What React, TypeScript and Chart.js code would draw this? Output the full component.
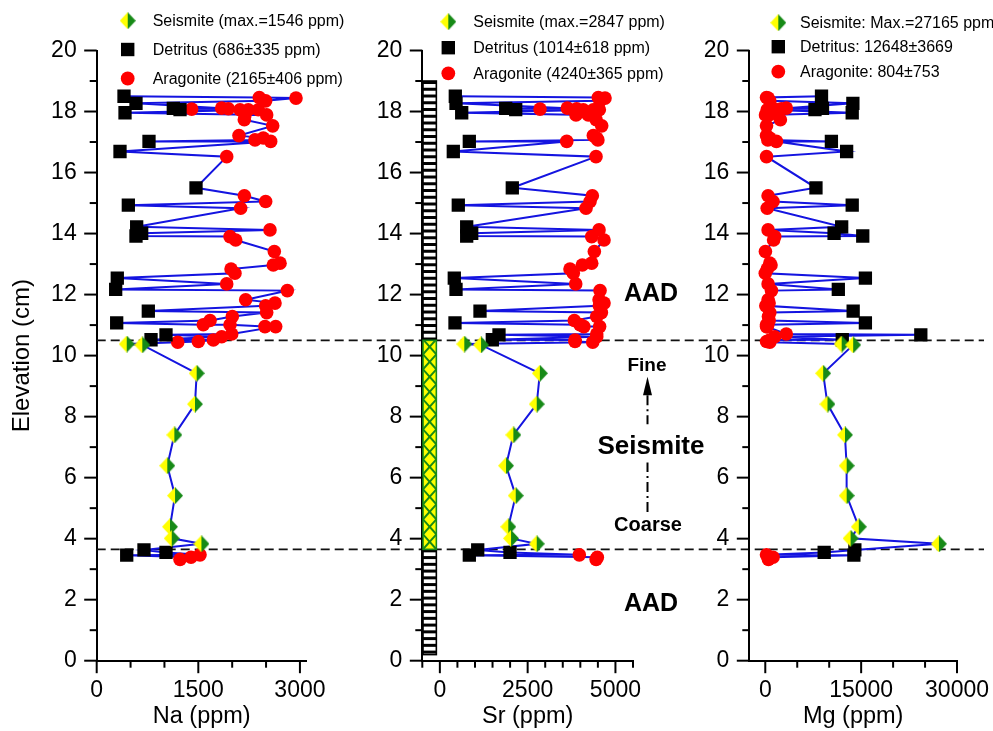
import React, { useEffect, useRef } from 'react';
import { Chart, registerables } from 'chart.js';

Chart.register(...registerables);

const FONT = "'Liberation Sans', Arial, Helvetica, sans-serif";
const W = 993;
const H = 731;

// ---------------- DATA ----------------
// Detritus samples
const detritusElev = [18.5, 18.27, 18.1, 18.06, 17.96, 17.02, 16.69, 15.5, 14.93, 14.22, 14.01, 13.92, 12.54, 12.17, 11.46, 11.07, 10.68, 10.52, 3.63, 3.55, 3.46];
const detritusNa = [403, 580, 1131, 1230, 418, 772, 344, 1466, 467, 590, 664, 580, 304, 280, 762, 295, 1023, 802, 698, 1023, 443];
const detritusSr = [440, 460, 1875, 2160, 622, 839, 383, 2063, 525, 764, 907, 764, 411, 460, 1143, 431, 1684, 1494, 1078, 1998, 839];
const detritusMg = [8798, 13705, 8953, 7776, 13602, 10345, 12728, 7930, 13602, 11952, 10763, 15251, 15664, 11428, 13750, 15664, 24335, 12048, 14013, 9216, 13859];

// Aragonite samples
const aragoniteElev = [18.46, 18.44, 18.35, 18.11, 18.09, 18.08, 18.06, 18.06, 18.06, 17.89, 17.89, 17.73, 17.53, 17.21, 17.13, 17.07, 17.02, 16.52, 15.24, 15.05, 14.83, 14.12, 13.9, 13.79, 13.41, 13.03, 12.97, 12.84, 12.7, 12.35, 12.13, 11.83, 11.72, 11.63, 11.41, 11.28, 11.15, 11.01, 11.01, 10.95, 10.95, 10.71, 10.62, 10.51, 10.46, 10.44, 3.47, 3.39, 3.32];
const aragoniteNa = [2400, 2942, 2494, 1845, 1943, 1402, 2115, 2238, 2386, 2509, 2189, 2179, 2598, 2100, 2459, 2337, 2568, 1919, 2180, 2494, 2125, 2558, 1968, 2052, 2622, 2706, 2607, 1983, 2041, 1919, 2814, 2199, 2632, 2494, 2509, 2002, 1673, 1574, 1968, 2484, 2642, 1993, 1845, 1722, 1500, 1196, 1525, 1392, 1230];
const aragoniteSr = [4512, 4703, 4561, 3630, 3897, 2852, 4085, 4370, 4541, 4228, 3877, 4450, 4609, 4370, 4467, 4500, 3613, 4447, 4342, 4276, 4162, 4533, 4324, 4675, 4399, 4324, 4057, 3706, 3800, 3869, 4561, 4533, 4675, 4541, 4600, 4467, 3829, 3991, 4000, 4100, 4550, 4467, 4467, 3849, 3849, 4353, 3971, 4484, 4450];
const aragoniteMg = [193, 450, 704, 3288, 2514, 1477, 440, 900, 300, 38, 600, 2359, 193, 193, 704, 400, 1740, 193, 440, 1214, 300, 440, 1477, 1300, 20, 704, 900, 300, 0, 440, 967, 440, 600, 85, 704, 500, 600, 193, 400, 300, 193, 3288, 1477, 704, 200, 704, 193, 1214, 500];

// Seismite samples
const seismiteElev = [10.38, 10.35, 9.42, 8.41, 7.4, 6.39, 5.41, 4.39, 4.01, 3.83];
const seismiteNa = [443, 673, 1476, 1451, 1146, 1042, 1156, 1082, 1107, 1546];
const seismiteSr = [696, 1172, 2847, 2758, 2092, 1884, 2160, 1949, 2026, 2758];
const seismiteMg = [11952, 13750, 9060, 9726, 12465, 12728, 12728, 14631, 13346, 27165];

// Tick labels
const elevationTickLabels = [0, 2, 4, 6, 8, 10, 12, 14, 16, 18, 20];
const naTickLabels = [0, 1500, 3000];
const srTickLabels = [0, 2500, 5000];
const mgTickLabels = [0, 15000, 30000];

// Legend texts
const naLegend = ['Seismite (max.=1546 ppm)', 'Detritus (686±335 ppm)', 'Aragonite (2165±406 ppm)'];
const srLegend = ['Seismite (max.=2847 ppm)', 'Detritus (1014±618 ppm)', 'Aragonite (4240±365 ppm)'];
const mgLegend = ['Seismite: Max.=27165 ppm', 'Detritus: 12648±3669', 'Aragonite: 804±753'];

// Unit boundaries (cm) and lithology column extent
const boundaryElev = [10.5, 3.65];
const lithologyRange = [0.2, 19.0];
const lithologySr = [-480, -100];

// ---------------- STYLE ----------------
const BLUE = '#1414e0';
const RED = '#ff0000';
const YELLOW = '#ffff00';
const GREEN = '#178a17';

function makeDiamond(w: number, h: number) {
  const c = document.createElement('canvas');
  c.width = w;
  c.height = h;
  const g = c.getContext('2d')!;
  g.fillStyle = YELLOW;
  g.beginPath();
  g.moveTo(w / 2, 0);
  g.lineTo(0, h / 2);
  g.lineTo(w / 2, h);
  g.closePath();
  g.fill();
  g.fillStyle = GREEN;
  g.beginPath();
  g.moveTo(w / 2, 0);
  g.lineTo(w, h / 2);
  g.lineTo(w / 2, h);
  g.closePath();
  g.fill();
  return c;
}

type Panel = {
  id: string;
  title: string;
  min: number;
  max: number;
  step: number;
  tickLabels: number[];
  det: number[];
  ara: number[];
  sei: number[];
  legend: string[];
  areaLeft: number;
  areaRight: number;
  yWidth: number;
  yTitle: boolean;
  legendPos: { mx: number; tx: number; rows: number[] };
  lithology?: boolean;
  boundaries?: boolean;
  notes?: boolean;
};

const PANELS: Panel[] = [
  {
    id: 'na', title: 'Na (ppm)', min: 0, max: 3100, step: 500, tickLabels: naTickLabels,
    det: detritusNa, ara: aragoniteNa, sei: seismiteNa, legend: naLegend,
    areaLeft: 96.7, areaRight: 306.7, yWidth: 96.7, yTitle: true,
    legendPos: { mx: 31, tx: 56, rows: [20.7, 49.5, 78.5] }, boundaries: true,
  },
  {
    id: 'sr', title: 'Sr (ppm)', min: -500, max: 5500, step: 500, tickLabels: srTickLabels,
    det: detritusSr, ara: aragoniteSr, sei: seismiteSr, legend: srLegend,
    areaLeft: 422.3, areaRight: 633, yWidth: 60, yTitle: false,
    legendPos: { mx: 26, tx: 51, rows: [21.7, 47.7, 73.3] }, lithology: true, notes: true,
  },
  {
    id: 'mg', title: 'Mg (ppm)', min: -2500, max: 30000, step: 5000, tickLabels: mgTickLabels,
    det: detritusMg, ara: aragoniteMg, sei: seismiteMg, legend: mgLegend,
    areaLeft: 749.3, areaRight: 959.3, yWidth: 60, yTitle: false,
    legendPos: { mx: 29, tx: 50.7, rows: [22.7, 46.7, 71.7] },
  },
];

function pts(xs: number[], ys: number[]) {
  return xs.map((x, i) => ({ x, y: ys[i] }));
}

// tick positions: every multiple of the step inside [min, max]
function stepTicks(min: number, max: number, step: number) {
  const out: { value: number }[] = [];
  for (let v = Math.ceil(min / step) * step; v <= max + 1e-9; v += step) out.push({ value: v });
  return out;
}

function drawTicks(chart: any) {
  const { ctx, chartArea } = chart;
  const xs = chart.scales.x;
  const ys = chart.scales.y;
  ctx.save();
  ctx.strokeStyle = '#000';
  ctx.lineWidth = 2;
  for (const t of xs.ticks) {
    const px = xs.getPixelForValue(t.value);
    const len = t.label !== '' ? 12.5 : 7;
    ctx.beginPath();
    ctx.moveTo(px, chartArea.bottom);
    ctx.lineTo(px, chartArea.bottom + len);
    ctx.stroke();
  }
  for (const t of ys.ticks) {
    const py = ys.getPixelForValue(t.value);
    const len = t.label !== '' ? 12.5 : 7;
    ctx.beginPath();
    ctx.moveTo(chartArea.left, py);
    ctx.lineTo(chartArea.left - len, py);
    ctx.stroke();
  }
  ctx.restore();
}

function drawLegend(chart: any, panel: Panel, diamond: HTMLCanvasElement) {
  const { ctx, chartArea } = chart;
  const mx = chartArea.left + panel.legendPos.mx;
  const tx = chartArea.left + panel.legendPos.tx;
  ctx.save();
  ctx.font = `16px ${FONT}`;
  ctx.textBaseline = 'middle';
  ctx.textAlign = 'left';
  panel.legend.forEach((label, i) => {
    const y = panel.legendPos.rows[i];
    if (i === 0) {
      ctx.drawImage(diamond, mx - diamond.width / 2, y - diamond.height / 2);
    } else if (i === 1) {
      ctx.fillStyle = '#000';
      ctx.fillRect(mx - 6.7, y - 6.7, 13.4, 13.4);
    } else {
      ctx.fillStyle = RED;
      ctx.beginPath();
      ctx.arc(mx, y, 6.9, 0, Math.PI * 2);
      ctx.fill();
    }
    ctx.fillStyle = '#000';
    ctx.fillText(label, tx, y + 1);
  });
  ctx.restore();
}

function drawBoundaries(chart: any) {
  const { ctx, chartArea } = chart;
  const ys = chart.scales.y;
  ctx.save();
  ctx.strokeStyle = '#111';
  ctx.lineWidth = 1.8;
  ctx.setLineDash([9, 5]);
  for (const e of boundaryElev) {
    const y = ys.getPixelForValue(e);
    ctx.beginPath();
    ctx.moveTo(chartArea.left, y);
    ctx.lineTo(984, y);
    ctx.stroke();
  }
  ctx.restore();
}

function drawLithology(chart: any) {
  const { ctx } = chart;
  const xs = chart.scales.x;
  const ys = chart.scales.y;
  const x0 = xs.getPixelForValue(lithologySr[0]);
  const x1 = xs.getPixelForValue(lithologySr[1]);
  const w = x1 - x0;
  const lower = Math.min(...boundaryElev);
  const upper = Math.max(...boundaryElev);
  const aad = [
    [lithologyRange[0], lower],
    [upper, lithologyRange[1]],
  ];
  ctx.save();
  for (const [b, t] of aad) {
    const yb = ys.getPixelForValue(b);
    const yt = ys.getPixelForValue(t);
    ctx.fillStyle = '#fff';
    ctx.fillRect(x0, yt, w, yb - yt);
    ctx.fillStyle = '#000';
    const stepPx = 6.75;
    for (let y = yt; y < yb - 1; y += stepPx) {
      ctx.fillRect(x0, y, w, 3);
    }
    ctx.strokeStyle = '#000';
    ctx.lineWidth = 1.6;
    ctx.strokeRect(x0, yt, w, yb - yt);
  }
  // seismite interval
  const yb = ys.getPixelForValue(lower);
  const yt = ys.getPixelForValue(upper);
  ctx.save();
  ctx.beginPath();
  ctx.rect(x0, yt, w, yb - yt);
  ctx.clip();
  ctx.fillStyle = YELLOW;
  ctx.fillRect(x0, yt, w, yb - yt);
  ctx.strokeStyle = GREEN;
  ctx.lineWidth = 2;
  const P = 15;
  for (let y = yb + P; y > yt - P; y -= P) {
    ctx.beginPath();
    ctx.moveTo(x0, y);
    ctx.lineTo(x1, y - P);
    ctx.stroke();
    ctx.beginPath();
    ctx.moveTo(x1, y);
    ctx.lineTo(x0, y - P);
    ctx.stroke();
  }
  ctx.restore();
  ctx.strokeStyle = GREEN;
  ctx.lineWidth = 1.6;
  ctx.strokeRect(x0, yt, w, yb - yt);
  ctx.restore();
}

function drawNotes(chart: any) {
  const { ctx, chartArea } = chart;
  const ys = chart.scales.y;
  const cx = chartArea.right + 17;
  ctx.save();
  ctx.fillStyle = '#000';
  ctx.textAlign = 'center';
  ctx.textBaseline = 'middle';
  ctx.font = `bold 25px ${FONT}`;
  ctx.fillText('AAD', cx + 1, ys.getPixelForValue(12.0));
  ctx.fillText('AAD', cx + 1, ys.getPixelForValue(1.85));
  ctx.font = `bold 26px ${FONT}`;
  ctx.fillText('Seismite', cx + 1, ys.getPixelForValue(7.0));
  ctx.font = `bold 19px ${FONT}`;
  ctx.fillText('Fine', cx - 3, ys.getPixelForValue(9.68));
  ctx.font = `bold 20px ${FONT}`;
  ctx.fillText('Coarse', cx - 2, ys.getPixelForValue(4.44));
  // dash-dot arrow
  const ax = cx - 2.5;
  ctx.strokeStyle = '#000';
  ctx.lineWidth = 2;
  ctx.setLineDash([10, 4, 2, 4]);
  ctx.beginPath();
  ctx.moveTo(ax, ys.getPixelForValue(8.7));
  ctx.lineTo(ax, ys.getPixelForValue(7.75));
  ctx.stroke();
  ctx.beginPath();
  ctx.moveTo(ax, ys.getPixelForValue(4.87));
  ctx.lineTo(ax, ys.getPixelForValue(6.5));
  ctx.stroke();
  ctx.setLineDash([]);
  const tipY = ys.getPixelForValue(9.31);
  const baseY = ys.getPixelForValue(8.7);
  ctx.beginPath();
  ctx.moveTo(ax, tipY);
  ctx.lineTo(ax - 4.5, baseY);
  ctx.lineTo(ax + 4.5, baseY);
  ctx.closePath();
  ctx.fill();
  ctx.restore();
}

function buildConfig(panel: Panel, diamond: HTMLCanvasElement): any {
  const det = pts(panel.det, detritusElev);
  const ara = pts(panel.ara, aragoniteElev);
  const sei = pts(panel.sei, seismiteElev);
  const path = [...det, ...ara, ...sei].sort((a, b) => b.y - a.y);
  const tickFont = { family: FONT, size: 23 };
  const titleFont = { family: FONT, size: 23.5 };
  return {
    type: 'scatter',
    data: {
      datasets: [
        { label: 'path', data: path, showLine: true, borderColor: BLUE, borderWidth: 2, pointRadius: 0, tension: 0, order: 10 },
        { label: 'Aragonite', data: ara, pointStyle: 'circle', pointRadius: 6.8, backgroundColor: RED, borderColor: RED, borderWidth: 0, order: 3 },
        { label: 'Detritus', data: det, pointStyle: 'rect', pointRadius: 9.4, backgroundColor: '#000', borderColor: '#000', borderWidth: 0, order: 2 },
        { label: 'Seismite', data: sei, pointStyle: diamond, pointRadius: 8, order: 1 },
      ],
    },
    options: {
      animation: false,
      responsive: false,
      devicePixelRatio: 1,
      events: [],
      layout: {
        padding: { left: panel.areaLeft - panel.yWidth, right: W - panel.areaRight, top: 50.5, bottom: 0 },
      },
      plugins: { legend: { display: false }, tooltip: { enabled: false } },
      scales: {
        x: {
          type: 'linear',
          position: 'bottom',
          min: panel.min,
          max: panel.max,
          afterFit: (s: any) => { s.height = 70.3; },
          afterBuildTicks: (s: any) => { s.ticks = stepTicks(panel.min, panel.max, panel.step); },
          grid: { display: false, drawTicks: true, tickLength: 12 },
          border: { display: true, color: '#000', width: 2 },
          ticks: {
            autoSkip: false,
            maxRotation: 0,
            minRotation: 0,
            color: '#000',
            font: tickFont,
            padding: 4,
            callback: (v: number) => (panel.tickLabels.includes(Math.round(v)) ? String(Math.round(v)) : ''),
          },
          title: { display: true, text: panel.title, color: '#000', font: titleFont, padding: { top: 0, bottom: 0 } },
        },
        y: {
          type: 'linear',
          min: 0,
          max: 20,
          afterFit: (s: any) => { s.width = panel.yWidth; },
          afterBuildTicks: (s: any) => { s.ticks = stepTicks(0, 20, 1); },
          grid: { display: false, drawTicks: true, tickLength: 12 },
          border: { display: true, color: '#000', width: 2 },
          ticks: {
            autoSkip: false,
            color: '#000',
            font: tickFont,
            padding: 8,
            callback: (v: number) => (elevationTickLabels.includes(Math.round(v)) ? String(Math.round(v)) : ''),
          },
          title: { display: panel.yTitle, text: 'Elevation (cm)', color: '#000', font: { family: FONT, size: 24 }, padding: { top: 8, bottom: 0 } },
        },
      },
    },
    plugins: [
      {
        id: 'decor-' + panel.id,
        beforeDatasetsDraw(chart: any) {
          if (panel.lithology) drawLithology(chart);
          if (panel.boundaries) drawBoundaries(chart);
        },
        afterDraw(chart: any) {
          drawTicks(chart);
          drawLegend(chart, panel, diamond);
          if (panel.notes) drawNotes(chart);
        },
      },
    ],
  };
}

function PanelChart({ panel }: { panel: Panel }) {
  const ref = useRef<HTMLCanvasElement>(null);
  useEffect(() => {
    const diamond = makeDiamond(16, 17);
    const chart = new Chart(ref.current as HTMLCanvasElement, buildConfig(panel, diamond));
    return () => chart.destroy();
  }, [panel]);
  return (
    <canvas
      ref={ref}
      width={W}
      height={H}
      style={{ position: 'absolute', left: 0, top: 0, width: W, height: H }}
    />
  );
}

export default function App() {
  return (
    <div style={{ position: 'absolute', left: 0, top: 0, width: W, height: H, background: '#fff', overflow: 'hidden' }}>
      {PANELS.map((p) => (
        <PanelChart key={p.id} panel={p} />
      ))}
    </div>
  );
}
